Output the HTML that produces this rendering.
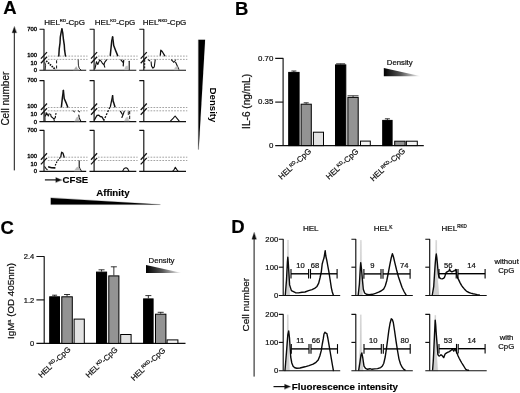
<!DOCTYPE html>
<html><head><meta charset="utf-8"><title>Figure</title>
<style>
html,body{margin:0;padding:0;background:#fff;}
body{width:520px;height:393px;overflow:hidden;}
svg{display:block;font-family:"Liberation Sans", Arial, sans-serif;}
svg text{font-family:"Liberation Sans", Arial, sans-serif;}
</style></head><body>
<svg width="520" height="393" viewBox="0 0 520 393">
<rect x="0" y="0" width="520" height="393" fill="#fff"/>
<text x="3.30" y="13.60" font-size="18.5" text-anchor="start" font-weight="bold" fill="#000" stroke="#000" stroke-width="0.15" >A</text>
<text x="235.00" y="15.20" font-size="18.5" text-anchor="start" font-weight="bold" fill="#000" stroke="#000" stroke-width="0.15" >B</text>
<text x="0.60" y="233.60" font-size="18.5" text-anchor="start" font-weight="bold" fill="#000" stroke="#000" stroke-width="0.15" >C</text>
<text x="231.20" y="233.00" font-size="18.5" text-anchor="start" font-weight="bold" fill="#000" stroke="#000" stroke-width="0.15" >D</text>
<line x1="14.30" y1="31.00" x2="14.30" y2="170.40" stroke="#111" stroke-width="1.0" />
<path d="M14.30,26.70 L12.10,32.80 L16.50,32.80 Z" stroke="#111" stroke-width="0.3" fill="#111" stroke-linejoin="round" stroke-linecap="round" />
<text transform="translate(9.1,125.6) rotate(-90)" font-size="10" fill="#111" stroke="#111" stroke-width="0.22">Cell number</text>
<text x="44.30" y="24.90" font-size="8" text-anchor="start" font-weight="normal" fill="#111" stroke="#111" stroke-width="0.22" >HEL<tspan font-size="4.2" dy="-3.2">RD</tspan><tspan dy="3.2">-CpG</tspan></text>
<text x="94.80" y="24.90" font-size="8" text-anchor="start" font-weight="normal" fill="#111" stroke="#111" stroke-width="0.22" >HEL<tspan font-size="4.2" dy="-3.2">KD</tspan><tspan dy="3.2">-CpG</tspan></text>
<text x="142.80" y="24.90" font-size="8" text-anchor="start" font-weight="normal" fill="#111" stroke="#111" stroke-width="0.22" >HEL<tspan font-size="4.2" dy="-3.2">RKD</tspan><tspan dy="3.2">-CpG</tspan></text>
<text x="37.00" y="30.90" font-size="5.8" text-anchor="end" font-weight="normal" fill="#111" stroke="#111" stroke-width="0.4" >700</text>
<text x="37.00" y="56.90" font-size="5.8" text-anchor="end" font-weight="normal" fill="#111" stroke="#111" stroke-width="0.4" >100</text>
<text x="37.00" y="64.90" font-size="5.8" text-anchor="end" font-weight="normal" fill="#111" stroke="#111" stroke-width="0.4" >10</text>
<text x="37.00" y="72.10" font-size="5.8" text-anchor="end" font-weight="normal" fill="#111" stroke="#111" stroke-width="0.4" >0</text>
<line x1="47.80" y1="56.10" x2="87.50" y2="56.10" stroke="#9a9a9a" stroke-width="0.9" stroke-dasharray="1.7 1.25"/>
<line x1="47.80" y1="59.40" x2="87.50" y2="59.40" stroke="#9a9a9a" stroke-width="0.9" stroke-dasharray="1.7 1.25"/>
<path d="M39.50,29.20 L44.00,29.20 L44.00,70.20" stroke="#111" stroke-width="1.15" fill="none" stroke-linejoin="round" stroke-linecap="butt" />
<line x1="39.40" y1="70.20" x2="86.20" y2="70.20" stroke="#111" stroke-width="1.15" />
<line x1="40.90" y1="58.60" x2="47.00" y2="52.10" stroke="#111" stroke-width="1.25" />
<line x1="40.90" y1="63.30" x2="47.00" y2="56.80" stroke="#111" stroke-width="1.25" />
<line x1="97.90" y1="56.10" x2="137.60" y2="56.10" stroke="#9a9a9a" stroke-width="0.9" stroke-dasharray="1.7 1.25"/>
<line x1="97.90" y1="59.40" x2="137.60" y2="59.40" stroke="#9a9a9a" stroke-width="0.9" stroke-dasharray="1.7 1.25"/>
<path d="M89.60,29.20 L94.10,29.20 L94.10,70.20" stroke="#111" stroke-width="1.15" fill="none" stroke-linejoin="round" stroke-linecap="butt" />
<line x1="89.50" y1="70.20" x2="136.30" y2="70.20" stroke="#111" stroke-width="1.15" />
<line x1="91.00" y1="58.60" x2="97.10" y2="52.10" stroke="#111" stroke-width="1.25" />
<line x1="91.00" y1="63.30" x2="97.10" y2="56.80" stroke="#111" stroke-width="1.25" />
<line x1="147.60" y1="56.10" x2="187.30" y2="56.10" stroke="#9a9a9a" stroke-width="0.9" stroke-dasharray="1.7 1.25"/>
<line x1="147.60" y1="59.40" x2="187.30" y2="59.40" stroke="#9a9a9a" stroke-width="0.9" stroke-dasharray="1.7 1.25"/>
<path d="M139.30,29.20 L143.80,29.20 L143.80,70.20" stroke="#111" stroke-width="1.15" fill="none" stroke-linejoin="round" stroke-linecap="butt" />
<line x1="139.20" y1="70.20" x2="186.00" y2="70.20" stroke="#111" stroke-width="1.15" />
<line x1="140.70" y1="58.60" x2="146.80" y2="52.10" stroke="#111" stroke-width="1.25" />
<line x1="140.70" y1="63.30" x2="146.80" y2="56.80" stroke="#111" stroke-width="1.25" />
<text x="37.00" y="82.30" font-size="5.8" text-anchor="end" font-weight="normal" fill="#111" stroke="#111" stroke-width="0.4" >700</text>
<text x="37.00" y="108.30" font-size="5.8" text-anchor="end" font-weight="normal" fill="#111" stroke="#111" stroke-width="0.4" >100</text>
<text x="37.00" y="116.30" font-size="5.8" text-anchor="end" font-weight="normal" fill="#111" stroke="#111" stroke-width="0.4" >10</text>
<text x="37.00" y="123.50" font-size="5.8" text-anchor="end" font-weight="normal" fill="#111" stroke="#111" stroke-width="0.4" >0</text>
<line x1="47.80" y1="107.50" x2="87.50" y2="107.50" stroke="#9a9a9a" stroke-width="0.9" stroke-dasharray="1.7 1.25"/>
<line x1="47.80" y1="110.80" x2="87.50" y2="110.80" stroke="#9a9a9a" stroke-width="0.9" stroke-dasharray="1.7 1.25"/>
<path d="M39.50,80.60 L44.00,80.60 L44.00,121.60" stroke="#111" stroke-width="1.15" fill="none" stroke-linejoin="round" stroke-linecap="butt" />
<line x1="39.40" y1="121.60" x2="86.20" y2="121.60" stroke="#111" stroke-width="1.15" />
<line x1="40.90" y1="110.00" x2="47.00" y2="103.50" stroke="#111" stroke-width="1.25" />
<line x1="40.90" y1="114.70" x2="47.00" y2="108.20" stroke="#111" stroke-width="1.25" />
<line x1="97.90" y1="107.50" x2="137.60" y2="107.50" stroke="#9a9a9a" stroke-width="0.9" stroke-dasharray="1.7 1.25"/>
<line x1="97.90" y1="110.80" x2="137.60" y2="110.80" stroke="#9a9a9a" stroke-width="0.9" stroke-dasharray="1.7 1.25"/>
<path d="M89.60,80.60 L94.10,80.60 L94.10,121.60" stroke="#111" stroke-width="1.15" fill="none" stroke-linejoin="round" stroke-linecap="butt" />
<line x1="89.50" y1="121.60" x2="136.30" y2="121.60" stroke="#111" stroke-width="1.15" />
<line x1="91.00" y1="110.00" x2="97.10" y2="103.50" stroke="#111" stroke-width="1.25" />
<line x1="91.00" y1="114.70" x2="97.10" y2="108.20" stroke="#111" stroke-width="1.25" />
<line x1="147.60" y1="107.50" x2="187.30" y2="107.50" stroke="#9a9a9a" stroke-width="0.9" stroke-dasharray="1.7 1.25"/>
<line x1="147.60" y1="110.80" x2="187.30" y2="110.80" stroke="#9a9a9a" stroke-width="0.9" stroke-dasharray="1.7 1.25"/>
<path d="M139.30,80.60 L143.80,80.60 L143.80,121.60" stroke="#111" stroke-width="1.15" fill="none" stroke-linejoin="round" stroke-linecap="butt" />
<line x1="139.20" y1="121.60" x2="186.00" y2="121.60" stroke="#111" stroke-width="1.15" />
<line x1="140.70" y1="110.00" x2="146.80" y2="103.50" stroke="#111" stroke-width="1.25" />
<line x1="140.70" y1="114.70" x2="146.80" y2="108.20" stroke="#111" stroke-width="1.25" />
<text x="37.00" y="132.00" font-size="5.8" text-anchor="end" font-weight="normal" fill="#111" stroke="#111" stroke-width="0.4" >700</text>
<text x="37.00" y="158.00" font-size="5.8" text-anchor="end" font-weight="normal" fill="#111" stroke="#111" stroke-width="0.4" >100</text>
<text x="37.00" y="166.00" font-size="5.8" text-anchor="end" font-weight="normal" fill="#111" stroke="#111" stroke-width="0.4" >10</text>
<text x="37.00" y="173.20" font-size="5.8" text-anchor="end" font-weight="normal" fill="#111" stroke="#111" stroke-width="0.4" >0</text>
<line x1="47.80" y1="157.20" x2="87.50" y2="157.20" stroke="#9a9a9a" stroke-width="0.9" stroke-dasharray="1.7 1.25"/>
<line x1="47.80" y1="160.50" x2="87.50" y2="160.50" stroke="#9a9a9a" stroke-width="0.9" stroke-dasharray="1.7 1.25"/>
<path d="M39.50,130.30 L44.00,130.30 L44.00,171.30" stroke="#111" stroke-width="1.15" fill="none" stroke-linejoin="round" stroke-linecap="butt" />
<line x1="39.40" y1="171.30" x2="86.20" y2="171.30" stroke="#111" stroke-width="1.15" />
<line x1="40.90" y1="159.70" x2="47.00" y2="153.20" stroke="#111" stroke-width="1.25" />
<line x1="40.90" y1="164.40" x2="47.00" y2="157.90" stroke="#111" stroke-width="1.25" />
<line x1="97.90" y1="157.20" x2="137.60" y2="157.20" stroke="#9a9a9a" stroke-width="0.9" stroke-dasharray="1.7 1.25"/>
<line x1="97.90" y1="160.50" x2="137.60" y2="160.50" stroke="#9a9a9a" stroke-width="0.9" stroke-dasharray="1.7 1.25"/>
<path d="M89.60,130.30 L94.10,130.30 L94.10,171.30" stroke="#111" stroke-width="1.15" fill="none" stroke-linejoin="round" stroke-linecap="butt" />
<line x1="89.50" y1="171.30" x2="136.30" y2="171.30" stroke="#111" stroke-width="1.15" />
<line x1="91.00" y1="159.70" x2="97.10" y2="153.20" stroke="#111" stroke-width="1.25" />
<line x1="91.00" y1="164.40" x2="97.10" y2="157.90" stroke="#111" stroke-width="1.25" />
<line x1="147.60" y1="157.20" x2="187.30" y2="157.20" stroke="#9a9a9a" stroke-width="0.9" stroke-dasharray="1.7 1.25"/>
<line x1="147.60" y1="160.50" x2="187.30" y2="160.50" stroke="#9a9a9a" stroke-width="0.9" stroke-dasharray="1.7 1.25"/>
<path d="M139.30,130.30 L143.80,130.30 L143.80,171.30" stroke="#111" stroke-width="1.15" fill="none" stroke-linejoin="round" stroke-linecap="butt" />
<line x1="139.20" y1="171.30" x2="186.00" y2="171.30" stroke="#111" stroke-width="1.15" />
<line x1="140.70" y1="159.70" x2="146.80" y2="153.20" stroke="#111" stroke-width="1.25" />
<line x1="140.70" y1="164.40" x2="146.80" y2="157.90" stroke="#111" stroke-width="1.25" />
<path d="M58.80,56.00 L59.20,49.20 L60.00,43.20 L60.30,37.20 L61.20,32.20 L61.90,28.90" stroke="#111" stroke-width="1.5" fill="none" stroke-linejoin="round" stroke-linecap="round" />
<path d="M61.90,28.90 L62.80,33.20 L63.40,39.20 L64.30,45.20 L64.60,50.20 L65.50,56.00" stroke="#111" stroke-width="1.5" fill="none" stroke-linejoin="round" stroke-linecap="round" />
<path d="M46.20,60.90 L55.40,69.50" stroke="#111" stroke-width="1.7" fill="none" stroke-linejoin="round" stroke-linecap="butt" stroke-dasharray="1.6 0.9"/>
<path d="M56.60,60.30 L56.60,69.50" stroke="#111" stroke-width="1.0" fill="none" stroke-linejoin="round" stroke-linecap="butt" stroke-dasharray="3 2.2"/>
<path d="M44.90,62.70 L45.60,65.20 L45.20,69.70" stroke="#111" stroke-width="0.9" fill="none" stroke-linejoin="round" stroke-linecap="round" />
<path d="M78.20,60.00 L78.40,65.20 L79.20,68.20 L81.00,70.00" stroke="#111" stroke-width="0.9" fill="none" stroke-linejoin="round" stroke-linecap="round" />
<path d="M73.80,70.00 L76.20,66.50 L78.20,70.00 Z" stroke="#aaa" stroke-width="0.3" fill="#aaa" stroke-linejoin="round" stroke-linecap="round" />
<path d="M110.30,55.40 L111.10,47.20 L111.70,41.20 L112.60,36.90" stroke="#111" stroke-width="1.5" fill="none" stroke-linejoin="round" stroke-linecap="round" />
<path d="M112.60,36.90 L113.30,42.20 L113.70,45.50 L115.70,50.70 L117.70,55.60" stroke="#111" stroke-width="1.5" fill="none" stroke-linejoin="round" stroke-linecap="round" />
<path d="M94.90,68.70 L95.50,66.30 L96.50,61.70 L97.80,64.50 L99.70,59.90 L101.50,61.70 L102.50,63.50 L103.90,64.50 L104.80,62.20 L106.60,59.90" stroke="#111" stroke-width="1.1" fill="none" stroke-linejoin="round" stroke-linecap="round" />
<path d="M103.90,64.50 L104.80,67.20" stroke="#111" stroke-width="1.1" fill="none" stroke-linejoin="round" stroke-linecap="round" />
<path d="M120.90,59.90 L122.80,62.20" stroke="#111" stroke-width="1.2" fill="none" stroke-linejoin="round" stroke-linecap="round" />
<path d="M123.70,60.30 L123.20,65.90" stroke="#111" stroke-width="1.2" fill="none" stroke-linejoin="round" stroke-linecap="round" />
<path d="M129.20,61.20 L129.20,69.40" stroke="#111" stroke-width="1.1" fill="none" stroke-linejoin="round" stroke-linecap="round" />
<path d="M124.40,69.50 L125.60,66.50 L127.50,65.80 L128.30,69.50 Z" stroke="#c2c2c2" stroke-width="0.3" fill="#c2c2c2" stroke-linejoin="round" stroke-linecap="round" />
<path d="M160.30,55.20 L160.80,50.20 L162.20,51.50 L163.40,53.50 L164.70,55.70" stroke="#111" stroke-width="1.3" fill="none" stroke-linejoin="round" stroke-linecap="round" />
<path d="M144.70,59.90 L144.70,69.20" stroke="#111" stroke-width="1.0" fill="none" stroke-linejoin="round" stroke-linecap="butt" stroke-dasharray="2 1.2"/>
<path d="M148.30,59.90 L149.70,60.80" stroke="#111" stroke-width="1.1" fill="none" stroke-linejoin="round" stroke-linecap="round" />
<path d="M151.10,61.70 L151.50,65.90 L152.90,68.20 L154.30,66.80 L155.20,59.90" stroke="#111" stroke-width="1.1" fill="none" stroke-linejoin="round" stroke-linecap="round" />
<path d="M171.40,59.90 L173.70,62.20" stroke="#111" stroke-width="1.1" fill="none" stroke-linejoin="round" stroke-linecap="round" />
<path d="M175.60,59.90 L174.20,62.20" stroke="#111" stroke-width="1.0" fill="none" stroke-linejoin="round" stroke-linecap="round" />
<path d="M175.60,62.20 L177.20,65.70 L178.80,69.20" stroke="#111" stroke-width="1.1" fill="none" stroke-linejoin="round" stroke-linecap="round" />
<path d="M174.00,69.50 L175.80,66.70 L177.30,66.20 L178.30,69.50 Z" stroke="#c2c2c2" stroke-width="0.3" fill="#c2c2c2" stroke-linejoin="round" stroke-linecap="round" />
<path d="M61.40,106.80 L62.40,97.60 L63.40,90.50" stroke="#111" stroke-width="1.5" fill="none" stroke-linejoin="round" stroke-linecap="round" />
<path d="M63.40,90.50 L64.20,98.50 L66.00,102.60 L67.70,107.00" stroke="#111" stroke-width="1.5" fill="none" stroke-linejoin="round" stroke-linecap="round" />
<path d="M44.90,112.60 L45.10,121.10" stroke="#111" stroke-width="0.9" fill="none" stroke-linejoin="round" stroke-linecap="round" />
<path d="M45.50,116.00 L46.50,112.80 L48.30,116.00 L49.20,113.70" stroke="#111" stroke-width="1.1" fill="none" stroke-linejoin="round" stroke-linecap="round" />
<path d="M50.60,114.20 L51.10,116.50 L53.90,118.80 L55.20,117.90" stroke="#111" stroke-width="1.1" fill="none" stroke-linejoin="round" stroke-linecap="round" />
<path d="M55.20,117.90 L56.20,111.90" stroke="#111" stroke-width="1.1" fill="none" stroke-linejoin="round" stroke-linecap="butt" stroke-dasharray="2 1"/>
<path d="M53.90,118.80 L54.30,121.00" stroke="#111" stroke-width="1.0" fill="none" stroke-linejoin="round" stroke-linecap="round" />
<path d="M73.20,110.90 L74.60,111.90" stroke="#111" stroke-width="1.0" fill="none" stroke-linejoin="round" stroke-linecap="round" />
<path d="M78.30,110.90 L79.70,111.90" stroke="#111" stroke-width="1.0" fill="none" stroke-linejoin="round" stroke-linecap="round" />
<path d="M78.80,115.10 L79.20,117.90 L80.60,120.80" stroke="#111" stroke-width="1.1" fill="none" stroke-linejoin="round" stroke-linecap="round" />
<path d="M74.80,121.10 L76.50,117.60 L78.20,116.80 L79.20,121.10 Z" stroke="#bcbcbc" stroke-width="0.3" fill="#bcbcbc" stroke-linejoin="round" stroke-linecap="round" />
<path d="M110.40,106.40 L111.60,100.60 L112.60,95.70" stroke="#111" stroke-width="1.3" fill="none" stroke-linejoin="round" stroke-linecap="round" />
<path d="M112.60,95.70 L113.10,101.10 L113.70,102.60 L114.90,106.80" stroke="#111" stroke-width="1.5" fill="none" stroke-linejoin="round" stroke-linecap="round" />
<path d="M109.90,107.20 L103.90,120.20" stroke="#111" stroke-width="1.3" fill="none" stroke-linejoin="round" stroke-linecap="butt" stroke-dasharray="2 1.3"/>
<path d="M94.40,119.90 L96.90,115.50 L98.80,115.10 L100.20,116.50 L102.00,116.90 L103.90,120.20" stroke="#111" stroke-width="1.3" fill="none" stroke-linejoin="round" stroke-linecap="round" />
<path d="M120.50,111.40 L122.30,114.20" stroke="#111" stroke-width="1.2" fill="none" stroke-linejoin="round" stroke-linecap="round" />
<path d="M124.20,111.40 L123.10,114.60 L121.90,117.40" stroke="#111" stroke-width="1.2" fill="none" stroke-linejoin="round" stroke-linecap="round" />
<path d="M129.70,110.90 L129.70,120.60" stroke="#111" stroke-width="1.0" fill="none" stroke-linejoin="round" stroke-linecap="butt" stroke-dasharray="3.4 1.4"/>
<path d="M128.30,111.90 L128.30,114.60" stroke="#111" stroke-width="0.9" fill="none" stroke-linejoin="round" stroke-linecap="round" />
<path d="M124.40,120.90 L125.90,117.80 L127.90,117.00 L129.00,120.90 Z" stroke="#c2c2c2" stroke-width="0.3" fill="#c2c2c2" stroke-linejoin="round" stroke-linecap="round" />
<path d="M170.20,121.30 L173.30,118.10 L175.10,116.00 L176.80,118.10 L179.40,121.30" stroke="#111" stroke-width="1.1" fill="none" stroke-linejoin="round" stroke-linecap="round" />
<path d="M60.80,156.80 L61.30,153.80 L61.70,152.20 L62.50,152.70 L63.10,153.50 L64.20,157.20" stroke="#111" stroke-width="1.3" fill="none" stroke-linejoin="round" stroke-linecap="round" />
<path d="M44.80,166.80 L45.80,168.30 L47.20,169.70" stroke="#111" stroke-width="1.1" fill="none" stroke-linejoin="round" stroke-linecap="round" />
<path d="M48.80,166.90 L51.50,167.70 L54.80,167.90" stroke="#111" stroke-width="1.6" fill="none" stroke-linejoin="round" stroke-linecap="round" />
<path d="M55.20,165.50 L57.10,161.40 L60.50,157.10" stroke="#111" stroke-width="1.2" fill="none" stroke-linejoin="round" stroke-linecap="butt" stroke-dasharray="1.6 1.1"/>
<path d="M79.20,160.90 L79.20,166.90 L80.00,168.80 L81.10,170.80" stroke="#111" stroke-width="1.1" fill="none" stroke-linejoin="round" stroke-linecap="round" />
<path d="M74.30,170.80 L76.50,167.50 L78.50,166.70 L80.60,170.80 Z" stroke="#bcbcbc" stroke-width="0.3" fill="#bcbcbc" stroke-linejoin="round" stroke-linecap="round" />
<path d="M122.60,171.30 L124.10,168.60 L126.00,167.70 L127.60,168.60 L128.90,171.30" stroke="#111" stroke-width="1.1" fill="none" stroke-linejoin="round" stroke-linecap="round" />
<path d="M172.60,171.30 L174.30,169.30 L175.30,167.20 L176.60,169.30 L178.20,171.30" stroke="#111" stroke-width="1.1" fill="none" stroke-linejoin="round" stroke-linecap="round" />
<line x1="44.90" y1="179.90" x2="57.00" y2="179.90" stroke="#111" stroke-width="1.2" />
<path d="M61.60,179.90 L55.80,177.50 L55.80,182.30 Z" stroke="#111" stroke-width="0.3" fill="#111" stroke-linejoin="round" stroke-linecap="round" />
<text x="62.60" y="183.20" font-size="9.6" text-anchor="start" font-weight="bold" fill="#000" stroke="#000" stroke-width="0.15" >CFSE</text>
<text x="96.20" y="196.30" font-size="9.7" text-anchor="start" font-weight="bold" fill="#000" stroke="#000" stroke-width="0.15" >Affinity</text>
<path d="M50.80,198.00 L50.80,204.60 L160.00,204.60 Z" stroke="#000" stroke-width="0.2" fill="#000" stroke-linejoin="round" stroke-linecap="round" />
<path d="M198.40,39.80 L205.10,39.80 L198.70,149.50 L198.40,149.50 Z" stroke="#000" stroke-width="0.1" fill="#000" stroke-linejoin="round" stroke-linecap="round" />
<text transform="translate(210.4,87.6) rotate(90)" font-size="9.65" font-weight="bold" fill="#000">Density</text>
<defs><linearGradient id="g1" x1="0" x2="1" y1="0" y2="0"><stop offset="0" stop-color="#000"/><stop offset="0.45" stop-color="#555"/><stop offset="1" stop-color="#fff"/></linearGradient></defs>
<path d="M275.20,58.30 L283.10,58.30 L283.10,145.60" stroke="#111" stroke-width="1.15" fill="none" stroke-linejoin="round" stroke-linecap="butt" />
<line x1="275.20" y1="102.10" x2="283.10" y2="102.10" stroke="#111" stroke-width="1.15" />
<line x1="275.20" y1="145.60" x2="423.80" y2="145.60" stroke="#111" stroke-width="1.15" />
<text x="273.40" y="60.50" font-size="7.9" text-anchor="end" font-weight="normal" fill="#111" stroke="#111" stroke-width="0.22" >0.70</text>
<text x="273.40" y="104.40" font-size="7.9" text-anchor="end" font-weight="normal" fill="#111" stroke="#111" stroke-width="0.22" >0.35</text>
<text x="273.40" y="147.90" font-size="7.9" text-anchor="end" font-weight="normal" fill="#111" stroke="#111" stroke-width="0.22" >0</text>
<text transform="translate(249.9,128.9) rotate(-90)" font-size="10.1" fill="#111" stroke="#111" stroke-width="0.22">IL-6 (ng/mL)</text>
<rect x="288.70" y="72.40" width="10.40" height="73.20" fill="#000" stroke="#000" stroke-width="1"/>
<line x1="293.90" y1="71.00" x2="293.90" y2="71.90" stroke="#000" stroke-width="0.8" />
<line x1="291.40" y1="71.00" x2="296.40" y2="71.00" stroke="#000" stroke-width="0.8" />
<rect x="301.10" y="104.20" width="10.20" height="41.40" fill="#939393" stroke="#000" stroke-width="1"/>
<line x1="306.20" y1="102.80" x2="306.20" y2="103.70" stroke="#000" stroke-width="0.8" />
<line x1="303.70" y1="102.80" x2="308.70" y2="102.80" stroke="#000" stroke-width="0.8" />
<rect x="313.40" y="132.20" width="10.10" height="13.40" fill="#e2e2e2" stroke="#000" stroke-width="1"/>
<rect x="335.50" y="64.90" width="10.30" height="80.70" fill="#000" stroke="#000" stroke-width="1"/>
<line x1="340.65" y1="63.80" x2="340.65" y2="64.40" stroke="#000" stroke-width="0.8" />
<line x1="336.15" y1="63.80" x2="345.15" y2="63.80" stroke="#000" stroke-width="0.8" />
<rect x="347.90" y="97.40" width="10.30" height="48.20" fill="#939393" stroke="#000" stroke-width="1"/>
<line x1="353.05" y1="95.80" x2="353.05" y2="96.90" stroke="#000" stroke-width="0.8" />
<line x1="347.55" y1="95.80" x2="358.55" y2="95.80" stroke="#000" stroke-width="0.8" />
<rect x="360.50" y="141.10" width="9.80" height="4.50" fill="#f4f4f4" stroke="#000" stroke-width="1"/>
<rect x="382.70" y="120.40" width="9.40" height="25.20" fill="#000" stroke="#000" stroke-width="1"/>
<line x1="387.40" y1="118.80" x2="387.40" y2="119.90" stroke="#000" stroke-width="0.8" />
<line x1="384.90" y1="118.80" x2="389.90" y2="118.80" stroke="#000" stroke-width="0.8" />
<rect x="394.70" y="141.20" width="10.40" height="4.40" fill="#939393" stroke="#000" stroke-width="1"/>
<rect x="406.40" y="141.20" width="10.90" height="4.40" fill="#f4f4f4" stroke="#000" stroke-width="1"/>
<text x="386.80" y="64.80" font-size="7.75" text-anchor="start" font-weight="normal" fill="#111" stroke="#111" stroke-width="0.22" >Density</text>
<path d="M383.80,68.00 L383.80,76.20 L421.00,76.20 Z" stroke="none" stroke-width="0" fill="url(#g1)" stroke-linejoin="round" stroke-linecap="round" />
<text transform="translate(281.6,180.0) rotate(-43)" font-size="7.9" fill="#111" stroke="#111" stroke-width="0.22">HEL<tspan font-size="4.8" dy="-2.8">RD</tspan><tspan dy="2.8">-CpG</tspan></text>
<text transform="translate(329.0,180.0) rotate(-43)" font-size="7.9" fill="#111" stroke="#111" stroke-width="0.22">HEL<tspan font-size="4.8" dy="-2.8">KD</tspan><tspan dy="2.8">-CpG</tspan></text>
<text transform="translate(373.2,181.7) rotate(-43)" font-size="7.9" fill="#111" stroke="#111" stroke-width="0.22">HEL<tspan font-size="4.8" dy="-2.8">RKD</tspan><tspan dy="2.8">-CpG</tspan></text>
<path d="M36.40,256.50 L44.20,256.50 L44.20,343.40" stroke="#111" stroke-width="1.15" fill="none" stroke-linejoin="round" stroke-linecap="butt" />
<line x1="36.40" y1="299.90" x2="44.20" y2="299.90" stroke="#111" stroke-width="1.15" />
<line x1="36.40" y1="343.40" x2="185.50" y2="343.40" stroke="#111" stroke-width="1.15" />
<text x="34.20" y="259.00" font-size="7.5" text-anchor="end" font-weight="normal" fill="#111" stroke="#111" stroke-width="0.22" >2.4</text>
<text x="34.20" y="303.00" font-size="7.5" text-anchor="end" font-weight="normal" fill="#111" stroke="#111" stroke-width="0.22" >1.2</text>
<text x="34.20" y="346.20" font-size="7.5" text-anchor="end" font-weight="normal" fill="#111" stroke="#111" stroke-width="0.22" >0</text>
<text transform="translate(14.2,339.0) rotate(-90)" font-size="9.8" fill="#111" stroke="#111" stroke-width="0.22">IgM<tspan font-size="5.5" dy="-3.5">a</tspan><tspan dy="3.5"> (OD 405nm)</tspan></text>
<rect x="49.70" y="296.80" width="9.80" height="46.60" fill="#000" stroke="#000" stroke-width="1"/>
<line x1="54.60" y1="295.20" x2="54.60" y2="296.30" stroke="#000" stroke-width="0.8" />
<line x1="52.10" y1="295.20" x2="57.10" y2="295.20" stroke="#000" stroke-width="0.8" />
<rect x="61.80" y="296.80" width="10.50" height="46.60" fill="#939393" stroke="#000" stroke-width="1"/>
<line x1="67.05" y1="294.50" x2="67.05" y2="296.30" stroke="#000" stroke-width="0.8" />
<line x1="64.05" y1="294.50" x2="70.05" y2="294.50" stroke="#000" stroke-width="0.8" />
<rect x="74.10" y="319.10" width="10.20" height="24.30" fill="#e2e2e2" stroke="#000" stroke-width="1"/>
<rect x="96.50" y="272.10" width="10.10" height="71.30" fill="#000" stroke="#000" stroke-width="1"/>
<line x1="101.55" y1="269.80" x2="101.55" y2="271.60" stroke="#000" stroke-width="0.8" />
<line x1="98.55" y1="269.80" x2="104.55" y2="269.80" stroke="#000" stroke-width="0.8" />
<rect x="108.80" y="275.90" width="10.10" height="67.50" fill="#939393" stroke="#000" stroke-width="1"/>
<line x1="113.85" y1="266.80" x2="113.85" y2="275.40" stroke="#000" stroke-width="0.8" />
<line x1="110.85" y1="266.80" x2="116.85" y2="266.80" stroke="#000" stroke-width="0.8" />
<rect x="120.70" y="334.50" width="10.40" height="8.90" fill="#e2e2e2" stroke="#000" stroke-width="1"/>
<rect x="143.60" y="298.90" width="9.50" height="44.50" fill="#000" stroke="#000" stroke-width="1"/>
<line x1="148.35" y1="295.60" x2="148.35" y2="298.40" stroke="#000" stroke-width="0.8" />
<line x1="145.35" y1="295.60" x2="151.35" y2="295.60" stroke="#000" stroke-width="0.8" />
<rect x="155.50" y="314.20" width="10.40" height="29.20" fill="#939393" stroke="#000" stroke-width="1"/>
<line x1="160.70" y1="312.30" x2="160.70" y2="313.70" stroke="#000" stroke-width="0.8" />
<line x1="157.70" y1="312.30" x2="163.70" y2="312.30" stroke="#000" stroke-width="0.8" />
<rect x="167.10" y="339.90" width="10.80" height="3.50" fill="#f4f4f4" stroke="#000" stroke-width="1"/>
<text x="148.50" y="262.70" font-size="7.8" text-anchor="start" font-weight="normal" fill="#111" stroke="#111" stroke-width="0.22" >Density</text>
<path d="M146.00,265.00 L146.00,272.90 L182.00,272.90 Z" stroke="none" stroke-width="0" fill="url(#g1)" stroke-linejoin="round" stroke-linecap="round" />
<text transform="translate(41.5,378.2) rotate(-43.5)" font-size="7.8" fill="#111" stroke="#111" stroke-width="0.22">HEL<tspan font-size="4.8" dy="-2.8">RD</tspan><tspan dy="2.8">-CpG</tspan></text>
<text transform="translate(88.7,378.2) rotate(-43.5)" font-size="7.8" fill="#111" stroke="#111" stroke-width="0.22">HEL<tspan font-size="4.8" dy="-2.8">KD</tspan><tspan dy="2.8">-CpG</tspan></text>
<text transform="translate(134.0,381.2) rotate(-43.5)" font-size="7.8" fill="#111" stroke="#111" stroke-width="0.22">HEL<tspan font-size="4.8" dy="-2.8">RKD</tspan><tspan dy="2.8">-CpG</tspan></text>
<line x1="254.10" y1="238.00" x2="254.10" y2="376.60" stroke="#111" stroke-width="1.0" />
<path d="M254.10,232.60 L251.90,239.20 L256.30,239.20 Z" stroke="#111" stroke-width="0.3" fill="#111" stroke-linejoin="round" stroke-linecap="round" />
<text transform="translate(248.7,331.5) rotate(-90)" font-size="9.95" fill="#111" stroke="#111" stroke-width="0.22">Cell number</text>
<text x="302.90" y="231.30" font-size="8" text-anchor="start" font-weight="normal" fill="#111" stroke="#111" stroke-width="0.22" >HEL</text>
<text x="373.70" y="231.30" font-size="8" text-anchor="start" font-weight="normal" fill="#111" stroke="#111" stroke-width="0.22" >HEL<tspan font-size="4.9" dy="-2.7">K</tspan></text>
<text x="441.60" y="231.30" font-size="8" text-anchor="start" font-weight="normal" fill="#111" stroke="#111" stroke-width="0.22" >HEL<tspan font-size="4.5" dy="-2.9">RKD</tspan></text>
<text x="278.20" y="241.90" font-size="7.7" text-anchor="end" font-weight="normal" fill="#111" stroke="#111" stroke-width="0.22" >200</text>
<text x="278.20" y="269.90" font-size="7.7" text-anchor="end" font-weight="normal" fill="#111" stroke="#111" stroke-width="0.22" >100</text>
<text x="278.20" y="298.10" font-size="7.7" text-anchor="end" font-weight="normal" fill="#111" stroke="#111" stroke-width="0.22" >0</text>
<text x="278.20" y="317.10" font-size="7.7" text-anchor="end" font-weight="normal" fill="#111" stroke="#111" stroke-width="0.22" >200</text>
<text x="278.20" y="345.10" font-size="7.7" text-anchor="end" font-weight="normal" fill="#111" stroke="#111" stroke-width="0.22" >100</text>
<text x="278.20" y="373.30" font-size="7.7" text-anchor="end" font-weight="normal" fill="#111" stroke="#111" stroke-width="0.22" >0</text>
<path d="M286.10,295.50 L287.10,271.50 L287.45,240.00 L288.55,240.00 L288.90,271.50 L289.90,295.50 Z" stroke="#cfcfcf" stroke-width="0.2" fill="#cfcfcf" stroke-linejoin="round" stroke-linecap="round" />
<path d="M278.80,239.20 L283.20,239.20 L283.20,295.50" stroke="#111" stroke-width="1.15" fill="none" stroke-linejoin="round" stroke-linecap="butt" />
<line x1="278.80" y1="267.20" x2="283.20" y2="267.20" stroke="#111" stroke-width="1.15" />
<line x1="278.80" y1="295.50" x2="340.20" y2="295.50" stroke="#111" stroke-width="1.15" />
<path d="M285.30,295.00 L286.50,280.00 L287.40,262.00 L287.80,257.20 L288.30,263.00 L289.60,284.90 L291.40,290.60 L295.50,292.70 L298.50,292.90 L302.00,292.20 L305.00,292.00 L308.60,290.60 L312.00,289.60 L315.10,288.10 L317.00,286.40 L318.70,283.20 L320.00,278.00 L321.30,271.80 L322.20,264.00 L323.20,260.40 L324.00,258.00 L325.20,250.70 L325.80,256.00 L326.80,260.40 L327.80,266.00 L328.90,271.80 L330.00,279.00 L331.40,288.10 L332.30,292.00 L333.30,295.00" stroke="#0a0a0a" stroke-width="1.4" fill="none" stroke-linejoin="round" stroke-linecap="round" />
<line x1="291.00" y1="273.80" x2="308.60" y2="273.80" stroke="#000" stroke-width="1.4" />
<line x1="310.50" y1="273.80" x2="337.10" y2="273.80" stroke="#000" stroke-width="1.4" />
<line x1="291.00" y1="269.00" x2="291.00" y2="278.60" stroke="#000" stroke-width="1.1" />
<line x1="308.60" y1="269.00" x2="308.60" y2="278.60" stroke="#000" stroke-width="1.1" />
<line x1="310.50" y1="269.00" x2="310.50" y2="278.60" stroke="#000" stroke-width="1.1" />
<line x1="337.10" y1="269.00" x2="337.10" y2="278.60" stroke="#000" stroke-width="1.1" />
<text x="300.60" y="267.90" font-size="7.6" text-anchor="middle" font-weight="normal" fill="#111" stroke="#111" stroke-width="0.22" >10</text>
<text x="315.10" y="267.90" font-size="7.6" text-anchor="middle" font-weight="normal" fill="#111" stroke="#111" stroke-width="0.22" >68</text>
<path d="M359.10,295.50 L360.00,271.50 L360.35,240.30 L361.45,240.30 L361.80,271.50 L362.70,295.50 Z" stroke="#cfcfcf" stroke-width="0.2" fill="#cfcfcf" stroke-linejoin="round" stroke-linecap="round" />
<path d="M351.40,239.20 L355.80,239.20 L355.80,295.50" stroke="#111" stroke-width="1.15" fill="none" stroke-linejoin="round" stroke-linecap="butt" />
<line x1="351.40" y1="267.20" x2="355.80" y2="267.20" stroke="#111" stroke-width="1.15" />
<line x1="351.40" y1="295.50" x2="412.80" y2="295.50" stroke="#111" stroke-width="1.15" />
<path d="M358.20,294.90 L359.40,284.00 L360.30,268.00 L360.70,262.70 L361.40,268.00 L363.30,289.20 L364.60,293.00 L366.40,294.30 L369.00,294.60 L372.50,294.30 L375.50,293.40 L378.60,292.20 L381.00,291.00 L383.60,289.20 L385.20,286.00 L386.70,281.00 L388.30,273.00 L389.80,264.80 L391.20,258.00 L392.40,253.60 L393.50,257.00 L394.80,262.70 L396.60,270.00 L398.50,277.00 L400.20,282.00 L402.00,287.20 L404.00,291.50 L406.00,294.90" stroke="#0a0a0a" stroke-width="1.4" fill="none" stroke-linejoin="round" stroke-linecap="round" />
<line x1="363.90" y1="273.90" x2="381.00" y2="273.90" stroke="#000" stroke-width="1.4" />
<line x1="383.00" y1="273.90" x2="410.10" y2="273.90" stroke="#000" stroke-width="1.4" />
<line x1="363.90" y1="269.10" x2="363.90" y2="278.70" stroke="#000" stroke-width="1.1" />
<line x1="381.00" y1="269.10" x2="381.00" y2="278.70" stroke="#000" stroke-width="1.1" />
<line x1="383.00" y1="269.10" x2="383.00" y2="278.70" stroke="#000" stroke-width="1.1" />
<line x1="410.10" y1="269.10" x2="410.10" y2="278.70" stroke="#000" stroke-width="1.1" />
<text x="372.30" y="268.00" font-size="7.6" text-anchor="middle" font-weight="normal" fill="#111" stroke="#111" stroke-width="0.22" >9</text>
<text x="404.30" y="268.00" font-size="7.6" text-anchor="middle" font-weight="normal" fill="#111" stroke="#111" stroke-width="0.22" >74</text>
<path d="M433.20,295.50 L435.30,271.50 L435.65,240.30 L436.75,240.30 L437.10,271.50 L439.20,295.50 Z" stroke="#cfcfcf" stroke-width="0.2" fill="#cfcfcf" stroke-linejoin="round" stroke-linecap="round" />
<path d="M425.30,239.20 L429.70,239.20 L429.70,295.50" stroke="#111" stroke-width="1.15" fill="none" stroke-linejoin="round" stroke-linecap="butt" />
<line x1="425.30" y1="267.20" x2="429.70" y2="267.20" stroke="#111" stroke-width="1.15" />
<line x1="425.30" y1="295.50" x2="486.70" y2="295.50" stroke="#111" stroke-width="1.15" />
<path d="M432.30,295.00 L433.70,286.70 L434.40,276.00 L435.10,265.40 L435.70,258.00 L436.30,254.00 L436.80,257.50 L437.30,262.50 L437.80,268.50 L438.30,273.90 L438.80,276.30 L439.40,277.50 L440.60,278.60 L442.20,278.90 L443.40,278.40 L444.40,277.50 L445.10,275.50 L445.80,273.20 L446.50,272.20 L447.20,271.80 L448.40,271.20 L449.20,270.60 L449.60,268.90 L450.00,270.60 L451.50,271.80 L452.60,271.60 L453.60,271.00 L454.80,270.60 L455.80,269.60 L456.50,272.50 L457.20,276.80 L457.90,278.40 L458.60,279.60 L460.00,282.60 L461.50,285.30 L462.90,287.30 L464.30,288.90 L465.80,290.50 L467.20,291.70 L469.00,292.50 L470.70,293.10 L473.00,293.70 L475.00,294.10 L477.20,294.60 L479.30,295.00" stroke="#0a0a0a" stroke-width="1.4" fill="none" stroke-linejoin="round" stroke-linecap="round" />
<line x1="439.00" y1="273.70" x2="456.20" y2="273.70" stroke="#000" stroke-width="1.4" />
<line x1="458.00" y1="273.70" x2="485.10" y2="273.70" stroke="#000" stroke-width="1.4" />
<line x1="439.00" y1="268.90" x2="439.00" y2="278.50" stroke="#000" stroke-width="1.1" />
<line x1="456.20" y1="268.90" x2="456.20" y2="278.50" stroke="#000" stroke-width="1.1" />
<line x1="458.00" y1="268.90" x2="458.00" y2="278.50" stroke="#000" stroke-width="1.1" />
<line x1="485.10" y1="268.90" x2="485.10" y2="278.50" stroke="#000" stroke-width="1.1" />
<text x="448.20" y="267.80" font-size="7.6" text-anchor="middle" font-weight="normal" fill="#111" stroke="#111" stroke-width="0.22" >56</text>
<text x="471.40" y="267.80" font-size="7.6" text-anchor="middle" font-weight="normal" fill="#111" stroke="#111" stroke-width="0.22" >14</text>
<path d="M285.90,370.70 L286.90,346.70 L287.25,314.70 L288.35,314.70 L288.70,346.70 L289.70,370.70 Z" stroke="#cfcfcf" stroke-width="0.2" fill="#cfcfcf" stroke-linejoin="round" stroke-linecap="round" />
<path d="M278.80,314.40 L283.20,314.40 L283.20,370.70" stroke="#111" stroke-width="1.15" fill="none" stroke-linejoin="round" stroke-linecap="butt" />
<line x1="278.80" y1="342.40" x2="283.20" y2="342.40" stroke="#111" stroke-width="1.15" />
<line x1="278.80" y1="370.70" x2="340.20" y2="370.70" stroke="#111" stroke-width="1.15" />
<path d="M285.00,370.50 L286.50,352.00 L287.80,335.00 L288.70,331.00 L289.50,338.00 L290.70,357.00 L291.80,363.00 L293.10,366.20 L294.80,367.70 L296.80,368.20 L300.00,368.00 L304.90,366.80 L309.00,365.60 L313.10,364.20 L316.00,362.30 L318.20,360.10 L319.80,356.00 L321.20,350.90 L322.30,344.00 L323.30,338.70 L324.00,334.00 L324.90,332.20 L325.90,333.20 L326.90,333.60 L327.90,338.50 L329.00,344.80 L330.20,352.00 L331.40,359.10 L332.40,365.00 L333.40,370.50" stroke="#0a0a0a" stroke-width="1.4" fill="none" stroke-linejoin="round" stroke-linecap="round" />
<line x1="291.30" y1="348.90" x2="309.00" y2="348.90" stroke="#000" stroke-width="1.4" />
<line x1="311.00" y1="348.90" x2="337.50" y2="348.90" stroke="#000" stroke-width="1.4" />
<line x1="291.30" y1="344.10" x2="291.30" y2="353.70" stroke="#000" stroke-width="1.1" />
<line x1="309.00" y1="344.10" x2="309.00" y2="353.70" stroke="#000" stroke-width="1.1" />
<line x1="311.00" y1="344.10" x2="311.00" y2="353.70" stroke="#000" stroke-width="1.1" />
<line x1="337.50" y1="344.10" x2="337.50" y2="353.70" stroke="#000" stroke-width="1.1" />
<text x="300.20" y="343.00" font-size="7.6" text-anchor="middle" font-weight="normal" fill="#111" stroke="#111" stroke-width="0.22" >11</text>
<text x="316.10" y="343.00" font-size="7.6" text-anchor="middle" font-weight="normal" fill="#111" stroke="#111" stroke-width="0.22" >66</text>
<path d="M358.40,370.70 L359.90,346.70 L360.25,314.70 L361.35,314.70 L361.70,346.70 L363.20,370.70 Z" stroke="#cfcfcf" stroke-width="0.2" fill="#cfcfcf" stroke-linejoin="round" stroke-linecap="round" />
<path d="M351.40,314.40 L355.80,314.40 L355.80,370.70" stroke="#111" stroke-width="1.15" fill="none" stroke-linejoin="round" stroke-linecap="butt" />
<line x1="351.40" y1="342.40" x2="355.80" y2="342.40" stroke="#111" stroke-width="1.15" />
<line x1="351.40" y1="370.70" x2="412.80" y2="370.70" stroke="#111" stroke-width="1.15" />
<path d="M358.70,370.10 L360.00,362.00 L361.00,355.00 L361.80,353.00 L362.80,358.00 L364.00,366.20 L365.50,368.40 L367.50,369.30 L370.00,368.70 L372.00,369.30 L374.60,368.90 L377.50,368.60 L380.70,367.60 L382.40,366.00 L383.80,363.20 L385.20,357.00 L386.40,348.90 L387.60,340.00 L388.80,330.60 L390.00,323.50 L391.30,318.80 L392.30,319.50 L393.30,322.50 L394.60,331.00 L396.00,340.80 L397.50,350.50 L399.00,359.10 L400.50,364.00 L402.10,367.20 L403.60,369.20 L405.10,370.10" stroke="#0a0a0a" stroke-width="1.4" fill="none" stroke-linejoin="round" stroke-linecap="round" />
<line x1="364.00" y1="348.90" x2="381.30" y2="348.90" stroke="#000" stroke-width="1.4" />
<line x1="383.30" y1="348.90" x2="410.20" y2="348.90" stroke="#000" stroke-width="1.4" />
<line x1="364.00" y1="344.10" x2="364.00" y2="353.70" stroke="#000" stroke-width="1.1" />
<line x1="381.30" y1="344.10" x2="381.30" y2="353.70" stroke="#000" stroke-width="1.1" />
<line x1="383.30" y1="344.10" x2="383.30" y2="353.70" stroke="#000" stroke-width="1.1" />
<line x1="410.20" y1="344.10" x2="410.20" y2="353.70" stroke="#000" stroke-width="1.1" />
<text x="373.30" y="343.00" font-size="7.6" text-anchor="middle" font-weight="normal" fill="#111" stroke="#111" stroke-width="0.22" >10</text>
<text x="404.70" y="343.00" font-size="7.6" text-anchor="middle" font-weight="normal" fill="#111" stroke="#111" stroke-width="0.22" >80</text>
<path d="M432.70,370.70 L434.40,346.70 L434.75,315.30 L435.85,315.30 L436.20,346.70 L437.90,370.70 Z" stroke="#cfcfcf" stroke-width="0.2" fill="#cfcfcf" stroke-linejoin="round" stroke-linecap="round" />
<path d="M425.30,314.40 L429.70,314.40 L429.70,370.70" stroke="#111" stroke-width="1.15" fill="none" stroke-linejoin="round" stroke-linecap="butt" />
<line x1="425.30" y1="342.40" x2="429.70" y2="342.40" stroke="#111" stroke-width="1.15" />
<line x1="425.30" y1="370.70" x2="486.70" y2="370.70" stroke="#111" stroke-width="1.15" />
<path d="M432.60,369.80 L433.20,362.00 L433.70,352.70 L434.40,337.00 L435.20,320.10 L435.70,325.00 L436.10,331.50 L436.60,338.00 L437.10,344.60 L437.50,350.00 L437.80,354.30 L438.60,355.60 L439.40,356.00 L440.20,355.50 L441.00,354.70 L441.90,355.40 L442.70,356.30 L443.30,357.20 L443.80,357.60 L444.40,355.80 L445.10,354.00 L446.30,353.10 L447.50,352.40 L448.80,351.80 L450.00,351.10 L451.20,350.20 L452.40,349.10 L453.10,350.20 L453.70,351.10 L454.30,350.00 L454.90,349.10 L455.70,350.30 L456.50,351.90 L457.30,353.80 L458.10,356.00 L459.30,358.50 L460.60,360.90 L461.80,363.00 L463.00,364.90 L464.30,367.00 L465.50,369.00 L466.30,369.70 L467.10,370.00 L468.50,370.30" stroke="#0a0a0a" stroke-width="1.4" fill="none" stroke-linejoin="round" stroke-linecap="round" />
<line x1="439.00" y1="348.70" x2="456.50" y2="348.70" stroke="#000" stroke-width="1.4" />
<line x1="458.20" y1="348.70" x2="485.10" y2="348.70" stroke="#000" stroke-width="1.4" />
<line x1="439.00" y1="343.90" x2="439.00" y2="353.50" stroke="#000" stroke-width="1.1" />
<line x1="456.50" y1="343.90" x2="456.50" y2="353.50" stroke="#000" stroke-width="1.1" />
<line x1="458.20" y1="343.90" x2="458.20" y2="353.50" stroke="#000" stroke-width="1.1" />
<line x1="485.10" y1="343.90" x2="485.10" y2="353.50" stroke="#000" stroke-width="1.1" />
<text x="448.00" y="342.80" font-size="7.6" text-anchor="middle" font-weight="normal" fill="#111" stroke="#111" stroke-width="0.22" >53</text>
<text x="471.70" y="342.80" font-size="7.6" text-anchor="middle" font-weight="normal" fill="#111" stroke="#111" stroke-width="0.22" >14</text>
<text x="506.60" y="263.70" font-size="7.7" text-anchor="middle" font-weight="normal" fill="#111" stroke="#111" stroke-width="0.22" >without</text>
<text x="506.20" y="272.50" font-size="7.8" text-anchor="middle" font-weight="normal" fill="#111" stroke="#111" stroke-width="0.22" >CpG</text>
<text x="506.50" y="339.90" font-size="7.7" text-anchor="middle" font-weight="normal" fill="#111" stroke="#111" stroke-width="0.22" >with</text>
<text x="506.20" y="349.00" font-size="7.8" text-anchor="middle" font-weight="normal" fill="#111" stroke="#111" stroke-width="0.22" >CpG</text>
<line x1="273.50" y1="386.60" x2="286.00" y2="386.60" stroke="#111" stroke-width="1.2" />
<path d="M290.40,386.60 L284.60,384.20 L284.60,389.00 Z" stroke="#111" stroke-width="0.3" fill="#111" stroke-linejoin="round" stroke-linecap="round" />
<text x="291.80" y="389.70" font-size="9.8" text-anchor="start" font-weight="bold" fill="#000" stroke="#000" stroke-width="0.15" >Fluorescence intensity</text>
</svg>
</body></html>
